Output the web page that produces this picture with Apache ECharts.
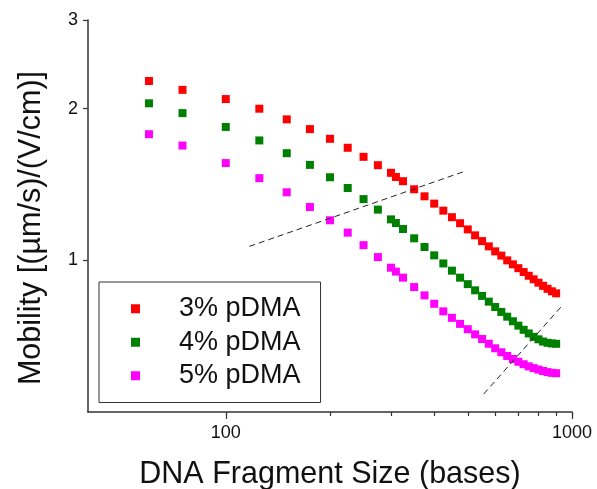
<!DOCTYPE html>
<html>
<head>
<meta charset="utf-8">
<script src="https://cdn.jsdelivr.net/npm/echarts@6/dist/echarts.min.js"></script>
<style>
  html, body { margin: 0; padding: 0; background: #fff; }
  #chart { width: 597px; height: 489px; }
</style>
</head>
<body>
<div id="chart"></div>
<script>
// fragment sizes (bases)
const sizes = [60, 75, 100, 125, 150, 175, 200, 225, 250, 275, 300, 310, 325,
  350, 375, 400, 425, 450, 475, 500, 525, 550, 575, 600, 625, 650, 675, 700,
  725, 750, 775, 800, 825, 850, 875, 900];

// mobility values for each polymer concentration
const pdma3 = [2.27, 2.18, 2.09, 2.00, 1.905, 1.822, 1.743, 1.673, 1.605, 1.545, 1.492, 1.464, 1.436,
  1.384, 1.340, 1.296, 1.255, 1.218, 1.185, 1.152, 1.121, 1.092, 1.066, 1.042, 1.022, 1.000,
  0.982, 0.965, 0.948, 0.932, 0.917, 0.903, 0.890, 0.878, 0.868, 0.860];
const pdma4 = [2.05, 1.96, 1.84, 1.73, 1.632, 1.547, 1.462, 1.392, 1.323, 1.261, 1.206, 1.186, 1.154,
  1.106, 1.063, 1.023, 0.986, 0.954, 0.924, 0.897, 0.872, 0.850, 0.828, 0.808, 0.790, 0.773,
  0.757, 0.742, 0.728, 0.716, 0.705, 0.697, 0.690, 0.686, 0.684, 0.683];
const pdma5 = [1.78, 1.69, 1.56, 1.456, 1.365, 1.276, 1.201, 1.135, 1.072, 1.015, 0.967, 0.950, 0.924,
  0.885, 0.852, 0.820, 0.792, 0.769, 0.748, 0.730, 0.713, 0.698, 0.683, 0.669, 0.657, 0.646,
  0.637, 0.629, 0.622, 0.616, 0.611, 0.607, 0.603, 0.600, 0.598, 0.597];

const seriesNames = ['3% pDMA', '4% pDMA', '5% pDMA'];

// dashed guide lines (end points)
const guideA = [[117, 1.066], [484, 1.498]];
const guideB = [[556, 0.543], [944, 0.818]];

// axis ticks
const xMajorTicks = [100, 1000];
const xMinorTicks = [100, 200, 300, 400, 500, 600, 700, 800, 900, 1000];
const yTicks = [1, 2, 3];

function pairs(ys) {
  return sizes.map(function (s, i) { return [s, ys[i]]; });
}

const chart = echarts.init(document.getElementById('chart'));
const font = 'Liberation Sans, Arial, sans-serif';
const gridBox = { left: 88, right: 25, top: 20, bottom: 77, outerBoundsMode: 'none', containLabel: false };

chart.setOption({
  animation: false,
  textStyle: { fontFamily: font },
  grid: [
    Object.assign({}, gridBox),
    Object.assign({}, gridBox)
  ],
  legend: {
    data: seriesNames,
    orient: 'vertical',
    left: 99,
    top: 282,
    icon: 'rect',
    itemWidth: 9,
    itemHeight: 9,
    itemGap: 0,
    padding: [10, 20, 10, 32],
    borderColor: '#333',
    borderWidth: 1,
    textStyle: {
      fontSize: 27,
      color: '#111',
      lineHeight: 33.5,
      padding: [0, 0, 0, 34]
    }
  },
  xAxis: [
    {
      type: 'log',
      gridIndex: 0,
      min: 40,
      max: 1000,
      name: 'DNA Fragment Size (bases)',
      nameLocation: 'middle',
      nameGap: 47,
      nameTextStyle: { fontSize: 30.5, color: '#111' },
      axisLine: { lineStyle: { color: '#333', width: 1.5 } },
      axisTick: { inside: false, length: 4, customValues: xMinorTicks, lineStyle: { color: '#333', width: 1.2 } },
      axisLabel: {
        fontSize: 18, color: '#111', margin: 12, customValues: xMajorTicks,
        formatter: function (v) { return String(v); }
      },
      minorTick: { show: false },
      splitLine: { show: false }
    },
    {
      type: 'log',
      gridIndex: 1,
      min: 40,
      max: 1000,
      axisLine: { show: false },
      axisTick: { inside: false, length: 7, customValues: xMajorTicks, lineStyle: { color: '#333', width: 1.2 } },
      axisLabel: { show: false },
      splitLine: { show: false }
    }
  ],
  yAxis: [
    {
      type: 'log',
      gridIndex: 0,
      min: 0.5,
      max: 3,
      name: 'Mobility [(µm/s)/(V/cm)]',
      nameLocation: 'middle',
      nameGap: 41,
      nameTextStyle: { fontSize: 30.5, color: '#111', padding: [0, 24, 0, 0] },
      axisLine: { show: true, lineStyle: { color: '#333', width: 1.5 } },
      axisTick: { inside: false, length: 5, customValues: yTicks, lineStyle: { color: '#333', width: 1.2 } },
      axisLabel: {
        fontSize: 18, color: '#111', margin: 10, customValues: yTicks,
        formatter: function (v) { return String(v); }
      },
      minorTick: { show: false },
      splitLine: { show: false }
    },
    {
      type: 'log',
      gridIndex: 1,
      min: 0.5,
      max: 3,
      show: false
    }
  ],
  series: [
    {
      name: seriesNames[0],
      type: 'scatter',
      symbol: 'rect',
      symbolSize: 8,
      itemStyle: { color: '#ff0000', opacity: 1 },
      data: pairs(pdma3)
    },
    {
      name: seriesNames[1],
      type: 'scatter',
      symbol: 'rect',
      symbolSize: 8,
      itemStyle: { color: '#008000', opacity: 1 },
      data: pairs(pdma4)
    },
    {
      name: seriesNames[2],
      type: 'scatter',
      symbol: 'rect',
      symbolSize: 8,
      itemStyle: { color: '#ff00ff', opacity: 1 },
      data: pairs(pdma5)
    },
    {
      type: 'line',
      showSymbol: false,
      symbol: 'none',
      z: 5,
      lineStyle: { color: '#222', width: 1, type: [6, 4] },
      data: guideA
    },
    {
      type: 'line',
      showSymbol: false,
      symbol: 'none',
      z: 5,
      lineStyle: { color: '#222', width: 1, type: [6, 4] },
      data: guideB
    }
  ]
});
</script>
</body>
</html>
